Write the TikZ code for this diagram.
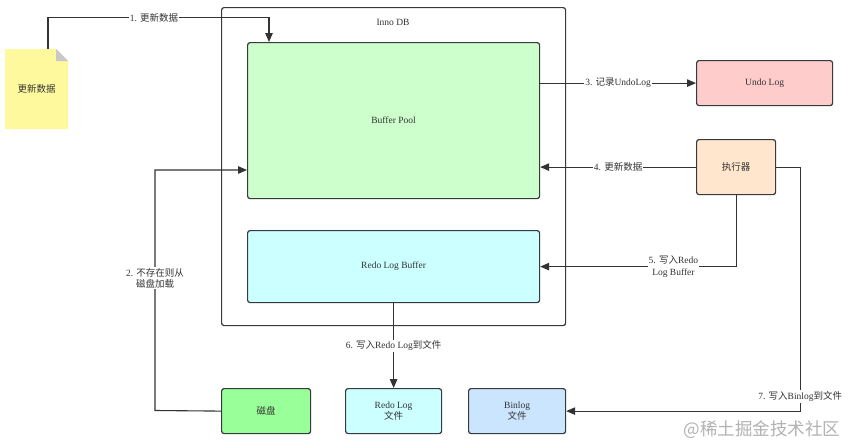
\documentclass[tikz,border=0pt]{standalone}
\usepackage{fontspec}
\setmainfont{Liberation Serif}
\newfontfamily\cjk{Noto Sans CJK SC}
\usetikzlibrary{arrows.meta}
\definecolor{bordercol}{HTML}{36393D}
\definecolor{linecol}{HTML}{333333}
\definecolor{textcol}{HTML}{333333}
\definecolor{bpgreen}{HTML}{CCFFCC}
\definecolor{cyanfill}{HTML}{CCFFFF}
\definecolor{undofill}{HTML}{FFCCCC}
\definecolor{execfill}{HTML}{FFE6CC}
\definecolor{notefill}{HTML}{FFF99E}
\definecolor{foldcol}{HTML}{C8C8C8}
\definecolor{diskfill}{HTML}{99FF99}
\definecolor{binfill}{HTML}{CCE5FF}
\begin{document}
\begin{tikzpicture}[x=1pt,y=-1pt,
  box/.style={draw=bordercol, line width=1.2pt, rounded corners=2.5pt, font=\fontsize{9.5}{11.5}\selectfont, text=textcol, align=center, anchor=north west, inner sep=0pt},
  conn/.style={draw=linecol, line width=1.1pt, -{Triangle[length=9pt,width=7.5pt]}},
  lbl/.style={fill=white, inner sep=1pt, font=\fontsize{9.5}{11.5}\selectfont, text=textcol, align=center}]
\useasboundingbox[fill=white] (0,0) rectangle (848,447);
% InnoDB container
\node[box, minimum width=344pt, minimum height=318pt] (inno) at (221,7) {};
\node[font=\fontsize{9.5}{11.5}\selectfont, text=textcol] (innolbl) at (393,22) {Inno DB};
\node[box, fill=bpgreen, minimum width=292pt, minimum height=156pt] (bp) at (247,42) {Buffer Pool};
\node[box, fill=cyanfill, minimum width=292pt, minimum height=72pt] (rlb) at (247,230) {Redo Log Buffer};
% right side
\node[box, fill=undofill, minimum width=136pt, minimum height=45pt] (undo) at (696,60) {Undo Log};
\node[box, fill=execfill, minimum width=79pt, minimum height=55pt] (exec) at (696,139) {{\cjk 执行器}};
% bottom
\node[box, fill=diskfill, minimum width=89pt, minimum height=45pt] (disk) at (221,388) {{\cjk 磁盘}};
\node[box, fill=cyanfill, minimum width=96pt, minimum height=45pt] (rlf) at (345,388) {Redo Log\\{\cjk 文件}};
\node[box, fill=binfill, minimum width=97pt, minimum height=45pt] (bin) at (468,388) {Binlog\\{\cjk 文件}};
% note
\fill[notefill] (5,49) -- (56,49) -- (68,61) -- (68,129) -- (5,129) -- cycle;
\fill[foldcol] (56,49) -- (68,61) -- (56,61) -- cycle;
\node[minimum width=63pt, minimum height=80pt, inner sep=0pt, font=\cjk\fontsize{9.5}{11.5}\selectfont, text=textcol] (note) at (36.5,89) {更新数据};
% connectors
\draw[conn] ([xshift=11.5pt]note.north) -- ++(0,-31) -- node[lbl, pos=0.48]{1. {\cjk 更新数据}} ++(221,0) -- ([xshift=22pt]bp.north west);
\draw[conn] (disk.west) -- (155,410.5) -- node[lbl, pos=0.55]{2. {\cjk 不存在则从}\\{\cjk 磁盘加载}} (155,170) -- (bp.west |- 155,170);
\draw[conn] (bp.east |- undo.west) -- node[lbl]{3. {\cjk 记录}UndoLog} (undo.west);
\draw[conn] (exec.west) -- node[lbl]{4. {\cjk 更新数据}} (bp.east |- exec.west);
\draw[conn] (exec.south) |- node[lbl, pos=0.66]{5. {\cjk 写入}Redo\\Log Buffer} (rlb.east);
\draw[conn] (rlb.south) -- node[lbl]{6. {\cjk 写入}Redo Log{\cjk 到文件}} (rlf.north);
\draw[conn] (exec.east) -- ++(24,0) -- node[lbl, pos=0.94]{7. {\cjk 写入}Binlog{\cjk 到文件}} ++(0,244) -- (bin.east);
% watermark
\node[font=\cjk\fontsize{17.5}{19}\selectfont, text=black!30] (wm) at (762,430) {@稀土掘金技术社区};
\end{tikzpicture}
\end{document}
